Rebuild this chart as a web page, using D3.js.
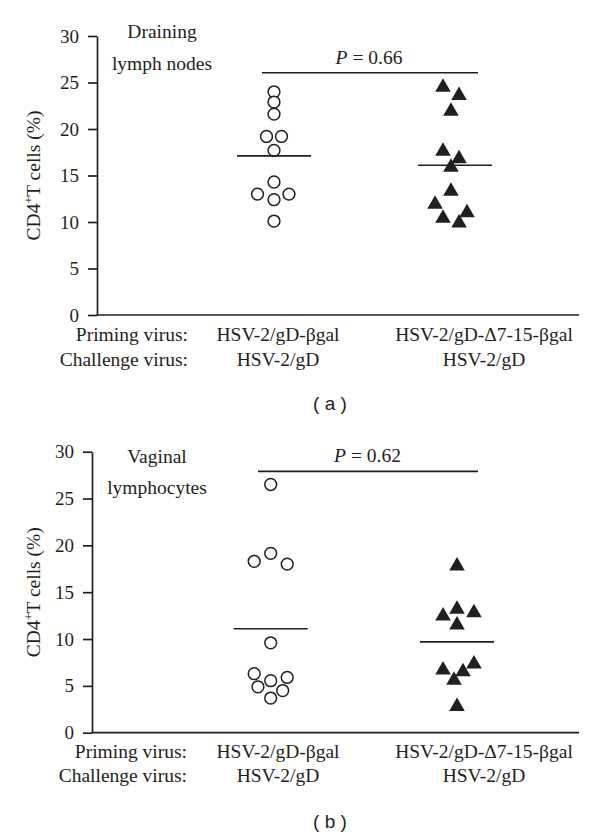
<!DOCTYPE html>
<html>
<head>
<meta charset="utf-8">
<title>CD4+ T cells</title>
<script src="https://cdn.jsdelivr.net/npm/d3@7"></script>
<style>
body { margin: 0; background: #fff; }
text { fill: #231f20; }
.serif { font-family: "Liberation Serif", "Times New Roman", serif; font-size: 19.5px; }
.tick text { font-family: "Liberation Serif", serif; font-size: 19px; }
.caption { font-family: "Liberation Sans", Arial, sans-serif; font-size: 19px; }
</style>
</head>
<body>
<div id="chart"></div>
<script>
// values (CD4+ T cells, %)
var yTicks = [0, 5, 10, 15, 20, 25, 30];
var rowLabels = ["Priming virus:", "Challenge virus:"];
var primingLabels = ["HSV-2/gD-\u03b2gal", "HSV-2/gD-\u03947-15-\u03b2gal"];
var challengeLabels = ["HSV-2/gD", "HSV-2/gD"];

// (a) draining lymph nodes
var lymphCircles = [24.0, 22.9, 21.6, 19.2, 19.2, 17.7, 14.3, 13.0, 13.0, 12.4, 10.1];
var lymphCircleLane = [0, 0, 0, -0.5, 0.5, 0, 0, -1.1, 1.0, 0, 0];
var lymphTriangles = [24.5, 23.6, 21.9, 17.6, 16.8, 15.9, 13.3, 11.9, 11.0, 10.4, 9.9];
var lymphTriangleLane = [-0.8, 0.27, -0.27, -0.8, 0.27, -0.27, -0.27, -1.33, 0.8, -0.8, 0.27];
var lymphMeans = [17.1, 16.1];

// (b) vaginal lymphocytes
var vagCircles = [26.5, 19.15, 18.3, 18.0, 9.6, 6.3, 5.9, 5.55, 4.9, 4.5, 3.7];
var vagCircleLane = [0, 0, -1.1, 1.1, 0, -1.1, 1.1, 0, -0.85, 0.8, 0];
var vagTriangles = [17.8, 13.17, 12.8, 12.46, 11.5, 7.33, 6.7, 6.5, 5.6, 2.8];
var vagTriangleLane = [0, 0, 1.13, -0.93, 0, 1.13, -0.93, 0.4, -0.2, 0];
var vagMeans = [11.1, 9.7];

var pValues = ["0.66", "0.62"];
var pBarLevel = [26.05, 27.9];
var panelTitles = [["Draining", "lymph nodes"], ["Vaginal", "lymphocytes"]];
var captions = ["( a )", "( b )"];

var ink = "#231f20";
var laneWidth = 15;

var panels = [
	{ circles: lymphCircles, cLane: lymphCircleLane, tris: lymphTriangles, tLane: lymphTriangleLane, means: lymphMeans,
	  top: 36, bottom: 315, left: 97, right: 579, g1: 274, g2: 455, titleX: 162, titleDy: [1.5, 33.5],
	  bar: [262, 478], pX: 369, rowDy: [26, 51], rowRight: 188, labelX: [278, 484], capY: 410 },
	{ circles: vagCircles, cLane: vagCircleLane, tris: vagTriangles, tLane: vagTriangleLane, means: vagMeans,
	  top: 451.7, bottom: 732.7, left: 92, right: 579, g1: 270.7, g2: 457, titleX: 157, titleDy: [11, 42.3],
	  bar: [258, 478], pX: 367.5, rowDy: [25, 49.5], rowRight: 187, labelX: [278, 484], capY: 828 }
];

var svg = d3.select("#chart").append("svg")
	.attr("width", 600).attr("height", 838);

panels.forEach(function(p, i) {
	var g = svg.append("g");
	var y = d3.scaleLinear().domain([0, 30]).range([p.bottom, p.top]);
	var x = d3.scaleLinear().domain([1, 2]).range([p.g1, p.g2]);

	// y axis
	var yAxis = d3.axisLeft(y).tickValues(yTicks).tickSize(9).tickPadding(9).tickSizeOuter(0);
	var ax = g.append("g").attr("transform", "translate(" + p.left + ",0)").call(yAxis);
	ax.select(".domain").attr("stroke", ink).attr("stroke-width", 1.7);
	ax.selectAll(".tick line").attr("stroke", ink).attr("stroke-width", 1.7);
	ax.selectAll(".tick text").attr("fill", ink).attr("font-family", null).attr("font-size", null);

	// x axis line
	g.append("line")
		.attr("x1", p.left).attr("x2", p.right)
		.attr("y1", y(0)).attr("y2", y(0))
		.attr("stroke", ink).attr("stroke-width", 1.7);

	// y label
	var yl = g.append("text").attr("class", "serif")
		.attr("transform", "translate(40," + (p.top + p.bottom) / 2 + ") rotate(-90)")
		.attr("text-anchor", "middle");
	yl.append("tspan").text("CD4");
	yl.append("tspan").attr("dy", -7).attr("font-size", 12).text("+");
	yl.append("tspan").attr("dy", 7).text("T cells (%)");

	// panel title
	panelTitles[i].forEach(function(t, k) {
		g.append("text").attr("class", "serif").attr("text-anchor", "middle")
			.attr("x", p.titleX).attr("y", p.top + p.titleDy[k]).text(t);
	});

	// circles
	g.selectAll("circle.pt").data(p.circles).enter().append("circle")
		.attr("class", "pt")
		.attr("cx", function(d, j) { return x(1) + p.cLane[j] * laneWidth; })
		.attr("cy", function(d) { return y(d); })
		.attr("r", 5.9)
		.attr("fill", "#fff").attr("stroke", ink).attr("stroke-width", 1.5);

	// triangles
	var tri = d3.symbol().type(d3.symbolTriangle).size(105);
	g.selectAll("path.tri").data(p.tris).enter().append("path")
		.attr("class", "tri")
		.attr("d", tri)
		.attr("transform", function(d, j) {
			return "translate(" + (x(2) + p.tLane[j] * laneWidth) + "," + y(d) + ")";
		})
		.attr("fill", ink);

	// mean lines
	g.selectAll("line.mean").data(p.means).enter().append("line")
		.attr("class", "mean")
		.attr("x1", function(d, j) { return x(j + 1) - 37; })
		.attr("x2", function(d, j) { return x(j + 1) + 37; })
		.attr("y1", function(d) { return y(d); })
		.attr("y2", function(d) { return y(d); })
		.attr("stroke", ink).attr("stroke-width", 1.7);

	// P bracket
	g.append("line")
		.attr("x1", p.bar[0]).attr("x2", p.bar[1])
		.attr("y1", y(pBarLevel[i])).attr("y2", y(pBarLevel[i]))
		.attr("stroke", ink).attr("stroke-width", 1.7);
	var pt = g.append("text").attr("class", "serif").attr("text-anchor", "middle")
		.attr("x", p.pX).attr("y", y(pBarLevel[i]) - 9);
	pt.append("tspan").attr("font-style", "italic").text("P");
	pt.append("tspan").text(" = " + pValues[i]);

	// category rows
	rowLabels.forEach(function(t, k) {
		g.append("text").attr("class", "serif").attr("text-anchor", "end")
			.attr("x", p.rowRight).attr("y", y(0) + p.rowDy[k]).text(t);
	});
	[primingLabels, challengeLabels].forEach(function(arr, k) {
		arr.forEach(function(t, j) {
			g.append("text").attr("class", "serif").attr("text-anchor", "middle")
				.attr("x", p.labelX[j]).attr("y", y(0) + p.rowDy[k]).text(t);
		});
	});

	g.append("text").attr("class", "caption").attr("text-anchor", "middle")
		.attr("x", 330).attr("y", p.capY).text(captions[i]);
});
</script>
</body>
</html>
